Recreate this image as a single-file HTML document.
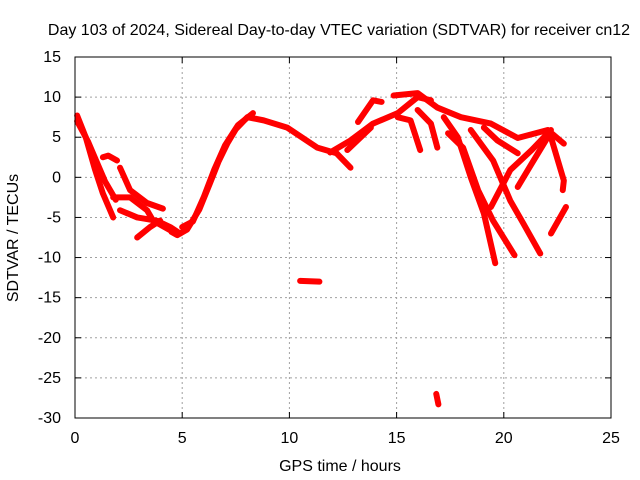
<!DOCTYPE html>
<html><head><meta charset="utf-8"><style>
body{margin:0;background:#fff}
svg{display:block;font-family:"Liberation Sans",Arial,sans-serif;font-size:16px}
</style></head><body>
<svg id="chart" width="640" height="480">
<text x="339" y="35" text-anchor="middle">Day 103 of 2024, Sidereal Day-to-day VTEC variation (SDTVAR) for receiver cn12</text>
<text x="340" y="471" text-anchor="middle">GPS time / hours</text>
<text transform="translate(18,238) rotate(-90)" text-anchor="middle">SDTVAR / TECUs</text>
<g id="grid"></g><g id="ticks"></g><g id="data"></g>
<rect x="75" y="57" width="536" height="361" fill="none" stroke="#000" stroke-width="1"/>
</svg>
<script>
const xTicks=[0,5,10,15,20,25];
const yTicks=[15,10,5,0,-5,-10,-15,-20,-25,-30];
const tracks=[
[[0.1,7.7],[0.5,5.0],[0.93,1.0],[1.3,-2.0],[1.78,-5.0]],
[[0.1,7.0],[0.6,4.5],[1.0,2.0],[1.4,-0.5],[1.9,-2.8]],
[[1.3,2.5],[1.55,2.7],[1.96,2.1]],
[[2.1,1.2],[2.57,-1.6],[3.36,-3.2],[4.1,-3.9]],
[[1.78,-2.5],[2.57,-2.5],[3.36,-4.1],[3.64,-5.4],[4.44,-6.6]],
[[2.1,-4.1],[2.9,-5.0],[3.8,-5.4],[4.44,-6.2],[4.9,-7.0]],
[[2.9,-7.5],[3.5,-6.2],[3.97,-5.4]],
[[4.5,-6.8],[4.77,-7.2],[5.23,-6.5],[5.8,-4.0],[6.3,-0.7],[6.7,2.0],[7.1,4.2],[7.5,6.0],[8.04,7.5],[8.8,7.1],[9.9,6.2],[11.3,3.7],[12.2,3.0],[12.85,1.2]],
[[5.0,-6.2],[5.5,-5.5],[6.0,-2.5],[6.5,1.0],[7.0,4.0],[7.6,6.5],[8.3,8.0]],
[[12.7,3.4],[13.8,6.2]],
[[11.9,3.1],[12.85,4.6],[13.9,6.7],[15.05,8.0],[15.98,10.0],[16.6,9.6]],
[[13.2,6.9],[13.9,9.6],[14.3,9.4]],
[[14.86,10.2],[15.98,10.5],[16.9,8.7],[18.0,7.5],[19.4,6.7],[20.65,4.9],[22.05,5.9],[22.8,4.2]],
[[15.05,7.5],[15.65,7.1],[16.1,3.4]],
[[15.98,8.4],[16.6,6.7],[16.9,3.7]],
[[17.2,7.5],[17.85,5.0],[18.46,0],[19.07,-4.5],[19.6,-10.7]],
[[17.4,5.5],[18.1,3.7],[18.8,-1.6],[19.5,-5.4],[20.5,-9.7]],
[[18.46,5.9],[19.5,2.1],[20.3,-2.9],[20.9,-5.7],[21.7,-9.5]],
[[19.07,6.2],[19.7,4.6],[20.65,3.0]],
[[19.4,-3.7],[20.3,0.9],[21.3,3.4],[22.2,5.9]],
[[20.65,-1.2],[21.3,1.7],[22.05,5.0]],
[[22.2,5.0],[22.8,-0.4],[22.75,-1.6]],
[[22.2,-7.0],[22.9,-3.7]],
[[10.5,-12.9],[11.4,-13.0]],
[[16.85,-27.0],[16.95,-28.3]]
];
const X0=75,X1=611,Y0=418,Y1=57;
const sx=v=>X0+(v-0)/(25-0)*(X1-X0);
const sy=v=>Y0-(v+30)/(45)*(Y0-Y1);
const NS="http://www.w3.org/2000/svg";
const grid=document.getElementById('grid'),tk=document.getElementById('ticks'),dg=document.getElementById('data');
function mk(tag,attrs,parent){const e=document.createElementNS(NS,tag);for(const k in attrs)e.setAttribute(k,attrs[k]);parent.appendChild(e);return e;}
xTicks.forEach(v=>{const x=sx(v);
 if(v>0&&v<25){const g=mk('line',{x1:x,x2:x,y1:Y1,y2:Y0,stroke:'#a0a0a0','stroke-dasharray':'2,3'},grid);
 
 }
 mk('line',{x1:x,x2:x,y1:Y0,y2:Y0-6,stroke:'#000'},tk);mk('line',{x1:x,x2:x,y1:Y1,y2:Y1+6,stroke:'#000'},tk);
 const t=mk('text',{x:x,y:443,'text-anchor':'middle'},tk);t.textContent=v;
 
 });
yTicks.forEach(v=>{const y=sy(v);
 if(v<15&&v>-30){const g=mk('line',{x1:X0,x2:X1,y1:y,y2:y,stroke:'#a0a0a0','stroke-dasharray':'2,3'},grid);
 
 }
 mk('line',{x1:X0,x2:X0+6,y1:y,y2:y,stroke:'#000'},tk);mk('line',{x1:X1,x2:X1-6,y1:y,y2:y,stroke:'#000'},tk);
 const t=mk('text',{x:61,y:y+5,'text-anchor':'end'},tk);t.textContent=v;
 
 });
tracks.forEach((tr,i)=>{
 const p=mk('polyline',{points:tr.map(d=>sx(d[0])+','+sy(d[1])).join(' '),fill:'none',stroke:'#ff0000','stroke-width':6,'stroke-linejoin':'round','stroke-linecap':'round'},dg);
 
 
});
</script>
</body></html>
